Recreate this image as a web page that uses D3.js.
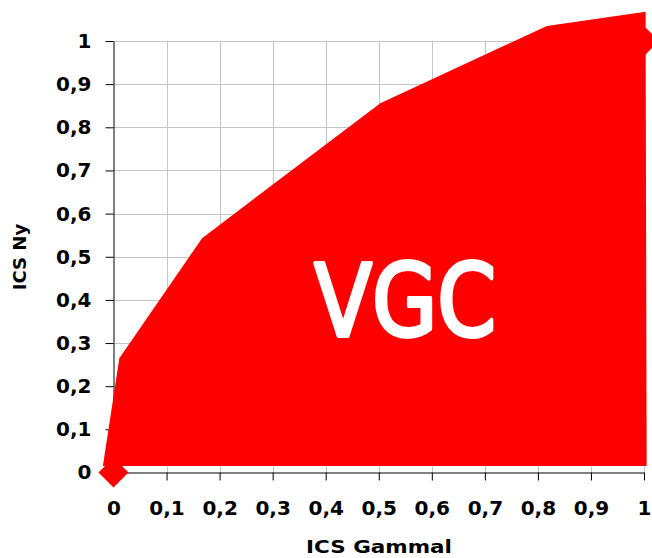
<!DOCTYPE html>
<html>
<head>
<meta charset="utf-8">
<script src="https://cdn.jsdelivr.net/npm/d3@7"></script>
<style>
  body { margin: 0; background: #fff; }
  svg { display: block; }
  .tick text { font-family: "DejaVu Sans", sans-serif; font-weight: bold; font-size: 20px; fill: #000; }
</style>
</head>
<body>
<svg id="chart" width="652" height="558"></svg>
<script>
// curve outline (ICS Gammal, ICS Ny)
let gammal = [-0.02, 0.011, 0.167, 0.503, 0.817, 1.003, 1.005];
let ny     = [0.015, 0.265, 0.543, 0.856, 1.035, 1.068, 0.015];
// the two diamond markers
let markX = [0, 1];
let markY = [0, 1];
let xTicks = [0, 0.1, 0.2, 0.3, 0.4, 0.5, 0.6, 0.7, 0.8, 0.9, 1];
let yTicks = [0, 0.1, 0.2, 0.3, 0.4, 0.5, 0.6, 0.7, 0.8, 0.9, 1];

let svg = d3.select("#chart");
let x = d3.scaleLinear().domain([0, 1]).range([113.5, 644]);
let y = d3.scaleLinear().domain([0, 1]).range([472.5, 41]);

let loc = d3.formatLocale({decimal: ",", thousands: ".", grouping: [3], currency: ["", ""]});
let fmt = loc.format(".1~f");

// grid
let grid = svg.append("g").attr("stroke", "#c4c4c4").attr("stroke-width", 1);
grid.selectAll("line.v").data(xTicks.slice(1)).enter().append("line")
  .attr("x1", d => Math.round(x(d)) + 0.5).attr("x2", d => Math.round(x(d)) + 0.5)
  .attr("y1", y(0)).attr("y2", y(1));
grid.selectAll("line.h").data(yTicks.slice(1)).enter().append("line")
  .attr("x1", x(0)).attr("x2", x(1))
  .attr("y1", d => Math.round(y(d)) + 0.5).attr("y2", d => Math.round(y(d)) + 0.5);

// axes
let xAxis = svg.append("g").attr("transform", "translate(0," + y(0) + ")")
  .call(d3.axisBottom(x).tickValues(xTicks).tickFormat(fmt).tickSize(8).tickSizeOuter(0).tickPadding(20));
let yAxis = svg.append("g").attr("transform", "translate(" + x(0) + ",0)")
  .call(d3.axisLeft(y).tickValues(yTicks).tickFormat(fmt).tickSize(8).tickSizeOuter(0).tickPadding(14));
svg.selectAll(".domain").attr("stroke", "#000");
svg.selectAll(".tick line").attr("stroke", "#000");

// filled area
let pts = gammal.map((g, i) => [x(g), y(ny[i])]);
svg.append("path")
  .attr("d", d3.line()(pts) + "Z")
  .attr("fill", "#ff0000");

// markers
svg.selectAll("path.mark").data(markX).enter().append("path")
  .attr("class", "mark")
  .attr("transform", (d, i) => "translate(" + x(d) + "," + y(markY[i]) + ")")
  .attr("d", "M0,-15L15,0L0,15L-15,0Z")
  .attr("fill", "#ff0000");

// label inside
svg.append("text")
  .attr("x", x(0.55)).attr("y", y(0.316))
  .attr("text-anchor", "middle")
  .attr("textLength", 182).attr("lengthAdjust", "spacingAndGlyphs")
  .style("font-family", "'Comic Sans MS', 'DejaVu Sans', sans-serif")
  .style("font-size", "100px")
  .attr("fill", "#fff").attr("stroke", "#fff").attr("stroke-width", 4).attr("stroke-linejoin", "round")
  .text("VGC");

// axis titles
svg.append("text")
  .attr("x", 379).attr("y", 553)
  .attr("text-anchor", "middle")
  .style("font-family", "'DejaVu Sans', sans-serif").style("font-weight", "bold").style("font-size", "18px")
  .attr("textLength", 146).attr("lengthAdjust", "spacingAndGlyphs")
  .text("ICS Gammal");
svg.append("text")
  .attr("transform", "translate(26,257) rotate(-90)")
  .attr("text-anchor", "middle")
  .style("font-family", "'DejaVu Sans', sans-serif").style("font-weight", "bold").style("font-size", "18px")
  .text("ICS Ny");
</script>
</body>
</html>
